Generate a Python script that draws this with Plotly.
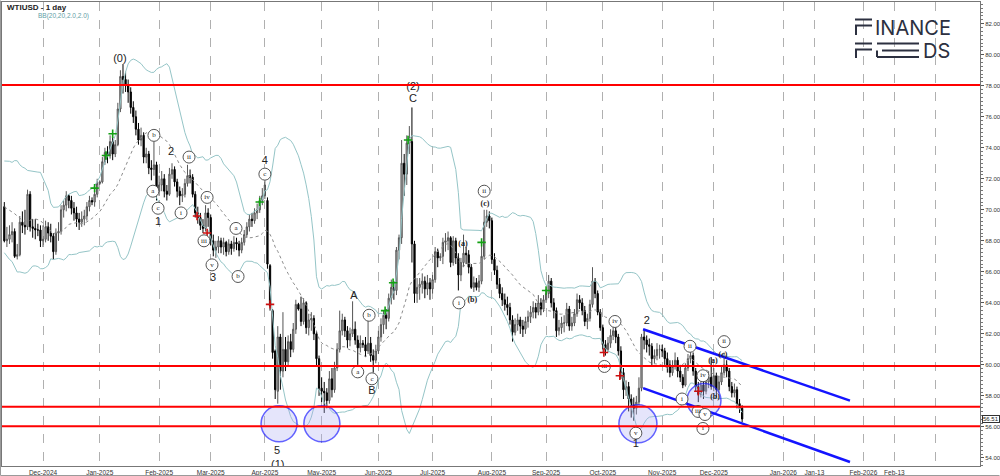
import numpy as np
import pandas as pd
import plotly.graph_objects as go

# ---------------- data ----------------
start_date = "2024-11-11"
end_date = "2025-12-16"

opens = [
    70.2, 68.0, 68.1, 68.4, 68.6, 67.0, 67.1, 69.2, 69.0, 68.9, 71.0, 68.9, 68.8, 68.7, 68.7,
    68.0, 68.1, 68.9, 68.5, 68.3, 67.3, 68.5, 68.6, 70.0, 70.3, 70.9, 70.6, 70.1, 69.8, 69.4, 69.2, 69.4, 69.6, 70.2, 70.6, 70.5, 71.0,
    71.7, 71.8, 73.1, 73.7, 73.5, 74.4, 73.6, 74.2, 76.5, 78.6, 78.4, 78.0, 77.6, 76.6, 76.0, 75.2, 74.5, 74.8, 73.4, 73.6, 72.7, 72.6, 72.9,
    71.2, 71.6, 72.0, 71.2, 71.0, 72.3, 72.6, 71.8, 71.2, 70.9, 71.0, 71.7, 72.2, 72.1, 71.0, 69.8, 69.5, 69.0, 68.8, 69.8,
    69.5, 68.0, 67.4, 67.6, 68.0, 67.6, 67.9, 67.3, 67.8, 67.5, 67.9, 67.8, 67.4, 67.9, 68.4, 68.9, 69.4, 69.3, 69.8, 70.0, 70.6,
    70.9, 70.6, 66.4, 63.5, 60.9, 58.3, 61.8, 59.6, 61.0, 60.2, 61.5, 61.0, 62.3, 63.9, 63.6, 62.8, 64.0, 62.4, 62.9, 63.0, 62.0, 60.4,
    58.5, 58.3, 58.2, 57.7, 59.1, 58.4, 59.8, 61.0, 62.2, 62.9, 62.2, 61.6, 62.0, 62.3, 61.6, 61.1, 61.4, 61.3, 60.9, 61.4, 60.6, 60.3,
    60.9, 61.8, 62.6, 63.2, 63.0, 64.3, 65.0, 64.8, 67.4, 68.2, 73.0, 72.3, 74.3, 74.4, 67.8, 64.6, 65.0, 65.2, 65.4, 64.9, 65.3,
    64.9, 65.5, 67.3, 66.9, 67.0, 67.9, 68.0, 68.2, 66.6, 68.0, 66.9, 65.8, 66.6, 67.2, 67.1, 66.3, 65.0, 65.3, 65.0, 65.4, 67.0, 69.2, 69.6,
    69.3, 66.8, 66.1, 65.2, 64.6, 64.2, 63.9, 63.7, 62.9, 62.1, 62.6, 62.9, 62.5, 62.3, 62.8, 63.1, 63.4, 63.7, 63.4, 64.0, 63.6,
    64.2, 64.6, 65.4, 64.0, 63.5, 62.2, 62.4, 62.7, 62.7, 63.6, 62.5, 62.7, 63.3, 64.2, 64.0, 63.5, 62.8, 63.0, 63.9, 65.4, 64.6, 63.4,
    62.4, 61.3, 61.0, 61.4, 61.9, 62.2, 61.8, 60.9, 59.5, 58.4, 58.6, 57.8, 57.4, 57.2, 57.6, 58.5, 61.8, 61.6, 61.3, 61.2, 60.4, 60.6, 61.0,
    61.0, 60.9, 60.4, 60.0, 59.5, 59.9, 60.3, 59.6, 59.2, 58.7, 59.8, 60.4, 60.6, 59.6, 58.6, 58.1, 58.7, 58.3, 58.9, 59.2,
    58.6, 59.3, 58.4, 58.9, 59.5, 60.0, 59.6, 58.6, 58.2, 58.4, 57.5, 57.2,
]
highs = [
    70.5, 68.9, 69.0, 69.2, 68.8, 67.8, 69.6, 69.9, 70.0, 71.3, 71.2, 69.4, 69.4, 69.1, 69.0,
    69.0, 69.3, 69.2, 69.1, 68.5, 68.8, 69.2, 70.3, 70.6, 71.2, 71.0, 70.9, 70.5, 70.2, 69.8, 69.9, 70.0, 70.5, 70.9, 70.8, 71.5, 72.0,
    71.9, 73.4, 74.0, 74.1, 74.8, 74.7, 74.5, 76.9, 79.0, 79.4, 78.9, 78.4, 77.9, 77.0, 76.4, 75.6, 75.3, 75.0, 74.0, 73.8, 73.2, 74.4, 73.1,
    72.2, 72.5, 72.3, 71.6, 72.7, 73.0, 72.8, 72.0, 71.5, 71.4, 72.0, 72.9, 72.6, 72.3, 71.2, 70.2, 69.8, 69.4, 70.3, 70.1,
    69.7, 68.4, 68.0, 68.3, 68.2, 68.2, 68.0, 68.1, 68.0, 68.3, 68.2, 68.0, 68.2, 68.7, 69.2, 69.7, 69.8, 70.1, 70.4, 70.9, 71.4,
    72.0, 70.8, 66.5, 63.6, 61.0, 62.5, 62.0, 63.4, 61.8, 61.9, 62.0, 62.7, 64.2, 64.0, 64.4, 64.3, 64.1, 63.3, 63.4, 63.2, 62.2, 60.6,
    59.2, 58.9, 58.5, 59.6, 59.8, 60.2, 61.4, 63.5, 63.3, 63.1, 62.5, 62.4, 64.1, 62.8, 61.9, 61.9, 61.6, 61.8, 62.9, 61.8, 61.0, 61.3,
    62.2, 63.0, 63.5, 63.6, 64.6, 65.5, 65.4, 67.6, 68.4, 74.5, 73.6, 74.8, 75.4, 76.6, 68.0, 65.6, 65.6, 65.9, 65.7, 65.8, 65.6,
    65.8, 67.6, 67.5, 67.2, 68.2, 68.5, 68.6, 68.3, 68.3, 68.2, 67.2, 66.9, 68.4, 67.6, 67.4, 66.5, 65.7, 65.6, 65.8, 67.9, 70.0, 70.0, 69.9,
    69.5, 67.2, 66.4, 65.6, 65.0, 64.6, 64.4, 64.0, 63.2, 63.0, 63.3, 63.1, 62.9, 63.1, 63.5, 63.8, 64.1, 64.0, 64.5, 64.3, 64.5,
    64.9, 65.8, 65.6, 64.3, 63.7, 62.9, 63.1, 63.2, 64.0, 63.8, 63.1, 63.6, 64.6, 64.5, 64.3, 63.8, 63.3, 64.2, 66.3, 65.6, 64.8, 63.6,
    62.6, 61.6, 61.8, 62.3, 62.7, 62.5, 62.0, 61.2, 59.8, 59.0, 58.9, 58.1, 57.9, 58.0, 59.2, 62.0, 62.3, 61.9, 61.7, 61.4, 61.0, 61.4, 61.3,
    61.3, 61.1, 60.8, 60.3, 60.3, 60.8, 60.5, 60.0, 59.4, 60.1, 60.7, 61.3, 60.8, 59.8, 58.9, 59.6, 59.0, 59.3, 59.6, 60.5,
    59.8, 59.5, 59.3, 59.9, 60.8, 60.3, 59.8, 58.9, 58.8, 58.6, 57.8, 57.4,
]
lows = [
    67.9, 67.6, 67.8, 67.9, 66.9, 66.8, 67.0, 68.5, 68.4, 68.7, 68.6, 68.2, 68.1, 68.3, 67.6,
    67.6, 67.9, 68.0, 67.9, 66.8, 67.1, 68.0, 68.4, 69.5, 69.9, 70.1, 69.7, 69.3, 68.9, 68.7, 68.9, 69.0, 69.3, 69.9, 70.3, 70.2, 70.8,
    71.6, 71.7, 72.9, 73.0, 73.3, 73.2, 73.4, 74.1, 76.3, 77.5, 77.6, 76.9, 76.2, 75.6, 74.8, 74.2, 74.1, 73.0, 73.0, 72.3, 71.9, 72.2, 70.6,
    70.9, 71.2, 70.8, 70.6, 70.9, 72.0, 71.5, 70.8, 70.3, 70.5, 70.8, 71.5, 71.7, 70.8, 69.5, 69.1, 68.7, 68.5, 68.6, 68.9,
    67.7, 67.0, 66.9, 67.2, 67.2, 67.1, 67.0, 67.1, 67.1, 67.3, 67.4, 67.0, 67.2, 67.7, 68.2, 68.6, 68.9, 69.1, 69.4, 69.8, 70.3,
    70.7, 66.2, 63.5, 60.4, 57.8, 57.5, 58.4, 59.2, 59.6, 59.9, 60.5, 60.8, 62.0, 63.5, 62.5, 62.6, 62.0, 61.9, 62.2, 61.6, 59.9, 58.0,
    57.6, 56.9, 57.2, 57.5, 57.9, 58.2, 59.6, 60.8, 61.9, 61.8, 61.1, 61.2, 61.8, 61.3, 60.0, 60.8, 61.1, 60.5, 60.7, 60.2, 59.5, 60.1,
    60.7, 61.5, 62.0, 62.3, 62.8, 63.9, 64.2, 64.5, 66.8, 67.8, 70.9, 71.6, 73.6, 66.6, 64.0, 64.0, 64.2, 64.6, 64.3, 64.5, 64.2,
    64.6, 65.3, 66.3, 66.7, 66.5, 67.3, 67.4, 66.3, 66.4, 66.5, 64.8, 65.4, 66.3, 66.5, 65.9, 64.9, 64.7, 64.8, 64.7, 65.2, 66.8, 68.9, 68.8,
    66.5, 65.8, 64.9, 64.3, 63.8, 63.5, 63.2, 62.6, 61.5, 61.9, 62.2, 62.0, 61.8, 62.0, 62.4, 62.7, 63.0, 63.0, 63.2, 63.2, 63.4,
    64.0, 64.3, 63.7, 63.0, 61.8, 61.9, 62.0, 62.1, 62.5, 62.2, 62.2, 62.5, 63.1, 63.6, 63.2, 62.5, 62.3, 62.8, 63.7, 64.3, 63.2, 62.2,
    61.0, 60.6, 60.8, 61.1, 61.6, 61.4, 60.6, 59.1, 57.8, 58.0, 57.0, 56.6, 56.4, 56.8, 57.4, 58.3, 61.0, 60.8, 60.6, 59.9, 60.1, 60.3, 60.4,
    60.5, 60.0, 59.5, 59.2, 59.3, 59.7, 59.2, 58.9, 58.5, 58.6, 59.6, 60.1, 59.3, 58.3, 57.6, 57.9, 57.8, 58.1, 58.5, 58.4,
    58.3, 57.9, 58.2, 58.7, 59.3, 59.2, 58.3, 57.9, 57.9, 57.2, 56.9, 56.3,
]
closes = [
    68.0, 68.1, 68.4, 68.6, 67.0, 67.1, 69.2, 69.0, 68.9, 71.0, 68.9, 68.8, 68.7, 68.7, 68.0,
    68.1, 68.9, 68.5, 68.3, 67.3, 68.5, 68.6, 70.0, 70.3, 70.9, 70.6, 70.1, 69.8, 69.4, 69.2, 69.4, 69.6, 70.2, 70.6, 70.5, 71.0, 71.7,
    71.8, 73.1, 73.7, 73.5, 74.4, 73.6, 74.2, 76.5, 78.6, 78.4, 78.0, 77.6, 76.6, 76.0, 75.2, 74.5, 74.8, 73.4, 73.6, 72.7, 72.6, 72.9, 71.2,
    71.6, 72.0, 71.2, 71.0, 72.3, 72.6, 71.8, 71.2, 70.9, 71.0, 71.7, 72.2, 72.1, 71.0, 69.8, 69.5, 69.0, 68.8, 69.8, 69.5,
    68.0, 67.4, 67.6, 68.0, 67.6, 67.9, 67.3, 67.8, 67.5, 67.9, 67.8, 67.4, 67.9, 68.4, 68.9, 69.4, 69.3, 69.8, 70.0, 70.6, 70.9,
    71.6, 66.5, 63.8, 60.8, 58.4, 61.8, 59.6, 61.0, 60.2, 61.5, 61.0, 62.3, 63.9, 63.6, 62.8, 64.0, 62.4, 62.9, 63.0, 62.0, 60.4, 58.5,
    58.3, 58.2, 57.7, 59.1, 58.4, 59.8, 61.0, 62.2, 62.9, 62.2, 61.6, 62.0, 62.3, 61.6, 61.1, 61.4, 61.3, 60.9, 61.4, 60.6, 60.3, 60.9,
    61.8, 62.6, 63.2, 63.0, 64.3, 65.0, 64.8, 67.4, 68.2, 73.0, 72.3, 74.3, 74.6, 67.8, 64.6, 65.0, 65.2, 65.4, 64.9, 65.3, 64.9,
    65.5, 67.3, 66.9, 67.0, 67.9, 68.0, 68.2, 66.6, 68.0, 66.9, 65.8, 66.6, 67.2, 67.1, 66.3, 65.0, 65.3, 65.0, 65.4, 67.0, 69.2, 69.6, 69.3,
    66.8, 66.1, 65.2, 64.6, 64.2, 63.9, 63.7, 62.9, 62.1, 62.6, 62.9, 62.5, 62.3, 62.8, 63.1, 63.4, 63.7, 63.4, 64.0, 63.6, 64.2,
    64.6, 65.4, 64.0, 63.5, 62.2, 62.4, 62.7, 62.7, 63.6, 62.5, 62.7, 63.3, 64.2, 64.0, 63.5, 62.8, 63.0, 63.9, 65.4, 64.6, 63.4, 62.4,
    61.3, 61.0, 61.4, 61.9, 62.2, 61.8, 60.9, 59.5, 58.4, 58.6, 57.8, 57.4, 57.2, 57.6, 58.5, 61.8, 61.6, 61.3, 61.2, 60.4, 60.6, 61.0, 61.0,
    60.9, 60.4, 60.0, 59.5, 59.9, 60.3, 59.6, 59.2, 58.7, 59.8, 60.4, 60.6, 59.6, 58.6, 58.1, 58.7, 58.3, 58.9, 59.2, 58.6,
    59.3, 58.4, 58.9, 59.5, 60.0, 59.6, 58.6, 58.2, 58.4, 57.5, 57.2, 56.51,
]
# closes before the first visible bar, only used to warm up the Bollinger bands
warmup_closes = [70.6, 70.4, 70.7, 69.2, 70.6, 71.7, 70.8, 70.2, 71.8, 67.4,
                 67.2, 68.6, 69.3, 69.5, 71.8, 71.5, 71.7, 72.4, 70.4]

month_ticks = ["2024-12", "2025-01", "2025-02", "2025-03", "2025-04", "2025-05", "2025-06",
               "2025-07", "2025-08", "2025-09", "2025-10", "2025-11", "2025-12"]
future_ticks = [("2026-01-01", "Jan-2026"), ("2026-01-13", "Jan-13"), ("2026-02-01", "Feb-2026"),
                ("2026-02-13", "Feb-13"), ("2026-03-01", "")]

support_levels = [78.05, 59.93, 57.3, 56.05]
last_price = 56.51

# Elliott-wave labels: (bar index, price, text)
plain_labels = [(44.8, 79.7, "(0)"), (59.6, 69.2, "1"), (64.6, 73.7, "2"), (80.9, 65.6, "3"),
                (101.0, 73.1, "4"), (105.7, 54.45, "5"), (106.0, 53.55, "(1)"), (158.4, 77.9, "(2)"),
                (158.4, 77.1, "C"), (135.5, 64.4, "A"), (142.5, 58.3, "B"), (244.8, 54.9, "1"),
                (249.0, 62.8, "2")]
paren_labels = [(177.8, 67.8, "(a)"), (181.4, 64.2, "(b)"), (186.3, 70.4, "(c)"),
                (274.7, 60.26, "(a)"), (275.5, 57.9, "(b)"), (278.6, 60.65, "(c)")]
circled_labels = [(57.6, 71.2, "a"), (58.0, 74.8, "b"), (59.6, 70.1, "c"), (68.5, 69.8, "i"),
                  (71.6, 73.4, "ii"), (77.4, 68.0, "iii"), (78.6, 70.8, "iv"), (80.5, 66.45, "v"),
                  (89.8, 68.8, "a"), (90.6, 65.7, "b"), (101.0, 72.3, "c"), (137.0, 59.55, "a"),
                  (141.4, 63.2, "b"), (142.5, 59.1, "c"), (176.2, 64.0, "i"), (186.0, 71.2, "ii"),
                  (232.6, 59.9, "iii"), (236.7, 62.8, "iv"), (244.8, 55.6, "v"), (262.7, 57.8, "i"),
                  (265.8, 61.2, "ii"), (268.9, 57.0, "iii"), (270.8, 59.3, "iv"), (271.6, 56.8, "v"),
                  (270.8, 55.9, "i"), (279.0, 61.5, "ii")]
buy_signals = [(35, 71.4), (39.4, 73.5), (42, 74.9), (99, 70.5), (147.6, 63.5), (150.7, 65.3),
               (156.5, 74.5), (185, 67.9), (210, 64.8)]
sell_signals = [(74.7, 69.6), (78.6, 68.5), (103, 63.9), (232.4, 60.8), (238.6, 59.3), (269, 58.3)]
support_zones = [(106.5, 56.2, 36), (123.1, 56.2, 36), (245.6, 56.2, 38), (271.2, 57.7, 34)]
channel_upper = [(247.6, 62.3), (327.8, 57.7)]
channel_lower = [(247.6, 58.5), (327.8, 53.74)]

# ---------------- derived ----------------
n = len(closes)
dates = pd.bdate_range(start_date, end_date)[:n]
bar = np.arange(n)

series = pd.Series(warmup_closes + closes, dtype=float)
mid = series.rolling(20).mean()
sd = series.rolling(20).std(ddof=0)
k = len(warmup_closes)
bb_mid = mid.iloc[k:].to_numpy()
bb_up = (mid + 2 * sd).iloc[k:].to_numpy()
bb_lo = (mid - 2 * sd).iloc[k:].to_numpy()

tickvals, ticktext = [], []
for m in month_ticks:
    ts = pd.Timestamp(m + "-01")
    idx = int(np.searchsorted(dates.values, ts.to_datetime64()))
    tickvals.append(idx)
    ticktext.append(ts.strftime("%b-%Y"))
for d, lab in future_ticks:
    tickvals.append(n - 1 + (pd.Timestamp(d) - dates[-1]).days)
    ticktext.append(lab)

# ---------------- figure ----------------
W, H = 1000, 476
ML, MR, MT, MB = 2, 20, 2, 10
PW, PH = W - ML - MR, H - MT - MB


def pxx(px):
    return (px - ML) / PW


def pxy(py):
    return (H - MB - py) / PH


fig = go.Figure()
band_col = "#95c5c7"
fig.add_trace(go.Scatter(x=bar, y=bb_up, mode="lines", line=dict(color=band_col, width=1), hoverinfo="skip"))
fig.add_trace(go.Scatter(x=bar, y=bb_lo, mode="lines", line=dict(color=band_col, width=1), hoverinfo="skip"))
fig.add_trace(go.Scatter(x=bar, y=bb_mid, mode="lines", line=dict(color="#8c8c8c", width=1, dash="dot"),
                         hoverinfo="skip"))

fig.add_trace(go.Candlestick(
    x=bar, open=opens, high=highs, low=lows, close=closes,
    increasing=dict(line=dict(color="#555555", width=1), fillcolor="#bdbdbd"),
    decreasing=dict(line=dict(color="#000000", width=1), fillcolor="#000000"),
    whiskerwidth=0,
))

# blue support circles
fig.add_trace(go.Scatter(
    x=[z[0] for z in support_zones], y=[z[1] for z in support_zones], mode="markers",
    marker=dict(size=[z[2] for z in support_zones], color="rgba(175,175,245,0.45)",
                line=dict(color="#2020ff", width=1.5)),
    hoverinfo="skip"))

# channel
for ch in (channel_upper, channel_lower):
    fig.add_trace(go.Scatter(x=[p[0] for p in ch], y=[p[1] for p in ch], mode="lines",
                             line=dict(color="#1414ff", width=2.5), hoverinfo="skip"))

# signals
fig.add_trace(go.Scatter(x=[s[0] for s in buy_signals], y=[s[1] for s in buy_signals], mode="markers",
                         marker=dict(symbol="cross-thin", size=6, line=dict(color="#13a013", width=1.6)),
                         hoverinfo="skip"))
fig.add_trace(go.Scatter(x=[s[0] for s in sell_signals], y=[s[1] for s in sell_signals], mode="markers",
                         marker=dict(symbol="cross-thin", size=6, line=dict(color="#cc1010", width=1.6)),
                         hoverinfo="skip"))

# wave labels
fig.add_trace(go.Scatter(
    x=[c[0] for c in circled_labels], y=[c[1] for c in circled_labels], mode="markers+text",
    text=[c[2] for c in circled_labels], textposition="middle center",
    textfont=dict(family="Liberation Serif, serif", size=7, color="#222"),
    marker=dict(size=12, color="white", line=dict(color="#555", width=1)),
    cliponaxis=False, hoverinfo="skip"))
fig.add_trace(go.Scatter(
    x=[c[0] for c in plain_labels], y=[c[1] for c in plain_labels], mode="text",
    text=[c[2] for c in plain_labels], textposition="middle center",
    textfont=dict(family="Liberation Sans, Arial, sans-serif", size=11, color="#222"),
    cliponaxis=True, hoverinfo="skip"))
fig.add_trace(go.Scatter(
    x=[c[0] for c in paren_labels], y=[c[1] for c in paren_labels], mode="text",
    text=["<b>" + c[2] + "</b>" for c in paren_labels], textposition="middle center",
    textfont=dict(family="Liberation Serif, serif", size=8, color="#222"),
    hoverinfo="skip"))

shapes = []
for lv in support_levels:
    shapes.append(dict(type="line", xref="paper", yref="y", x0=0, x1=1, y0=lv, y1=lv,
                       line=dict(color="#ff0000", width=2), layer="above"))

# logo (FinanceFeeds)
logo_col = "#2c3040"
logo_lines = [
    (855, 19.5, 872, 19.5), (855, 25.5, 872, 25.5), (856, 25.5, 856, 35),
    (855, 43.5, 872, 43.5), (855, 49.5, 872, 49.5), (856, 49.5, 856, 58),
    (877, 43.5, 919, 43.5), (882, 50.5, 919, 50.5), (877, 57, 919, 57), (877, 50.5, 877, 57),
]
for x0, y0, x1, y1 in logo_lines:
    shapes.append(dict(type="line", xref="paper", yref="paper", x0=pxx(x0), y0=pxy(y0), x1=pxx(x1),
                       y1=pxy(y1), line=dict(color=logo_col, width=2)))
# outer frame (left, bottom)
shapes.append(dict(type="line", xref="paper", yref="paper", x0=pxx(0.5), x1=pxx(0.5), y0=pxy(475.5),
                   y1=pxy(0.5), line=dict(color="#9a9a9a", width=1), layer="above"))
shapes.append(dict(type="line", xref="paper", yref="paper", x0=pxx(0.5), x1=pxx(999.5), y0=pxy(475.5),
                   y1=pxy(475.5), line=dict(color="#9a9a9a", width=1), layer="above"))

annotations = [
    dict(xref="paper", yref="paper", x=pxx(5), y=pxy(7), xanchor="left", yanchor="middle",
         text="<b>WTIUSD - 1 day</b>", showarrow=False,
         font=dict(family="Liberation Sans, Arial, sans-serif", size=8, color="#222")),
    dict(xref="paper", yref="paper", x=pxx(36), y=pxy(16), xanchor="left", yanchor="middle",
         text="BB(20,20,2.0,2.0)", showarrow=False,
         font=dict(family="Liberation Sans, Arial, sans-serif", size=6.5, color="#5f9ea6")),
    dict(xref="paper", yref="paper", x=pxx(873), y=pxy(28), xanchor="left", yanchor="middle",
         text="INANCE", showarrow=False, font=dict(family="Inter, Lato, sans-serif", size=20, color=logo_col)),
    dict(xref="paper", yref="paper", x=pxx(921), y=pxy(50.5), xanchor="left", yanchor="middle",
         text="DS", showarrow=False, font=dict(family="Inter, Lato, sans-serif", size=20, color=logo_col)),
    dict(xref="paper", yref="y", x=1, y=last_price, xanchor="left", yanchor="middle", xshift=2,
         text=f"{last_price:.2f}", showarrow=False, bgcolor="white", bordercolor="#333", borderwidth=1,
         borderpad=0, font=dict(family="Liberation Sans, Arial, sans-serif", size=6, color="#222")),
]

fig.update_layout(
    width=W, height=H, margin=dict(l=ML, r=MR, t=MT, b=MB),
    paper_bgcolor="white", plot_bgcolor="white", showlegend=False,
    font=dict(family="Liberation Sans, Arial, sans-serif", size=7, color="#333"),
    shapes=shapes, annotations=annotations,
)
fig.update_xaxes(
    range=[-0.9, 378.2], tickmode="array", tickvals=tickvals, ticktext=ticktext,
    showgrid=True, gridcolor="#b0b0b0", griddash="dash", gridwidth=1,
    ticks="", showline=True, mirror=True, linecolor="#777",
    rangeslider_visible=False, zeroline=False, automargin=False,
    tickfont=dict(size=6.5, color="#333"),
)
fig.update_yaxes(
    side="right", range=[53.48, 83.4], tickmode="linear", tick0=0, dtick=2, tickformat=".2f",
    ticks="outside", ticklen=3, tickcolor="#555",
    minor=dict(tickmode="linear", tick0=0, dtick=0.25, ticks="outside", ticklen=2, tickcolor="#777",
               showgrid=False),
    showgrid=False, showline=True, mirror=True, linecolor="#777", zeroline=False, automargin=False,
    tickfont=dict(size=6, color="#333"),
)

fig.write_html(
    "out.html",
    config={"displayModeBar": False},
    post_script="document.body.style.margin='0';document.body.style.overflow='hidden';"
                "document.documentElement.style.overflow='hidden';",
)
